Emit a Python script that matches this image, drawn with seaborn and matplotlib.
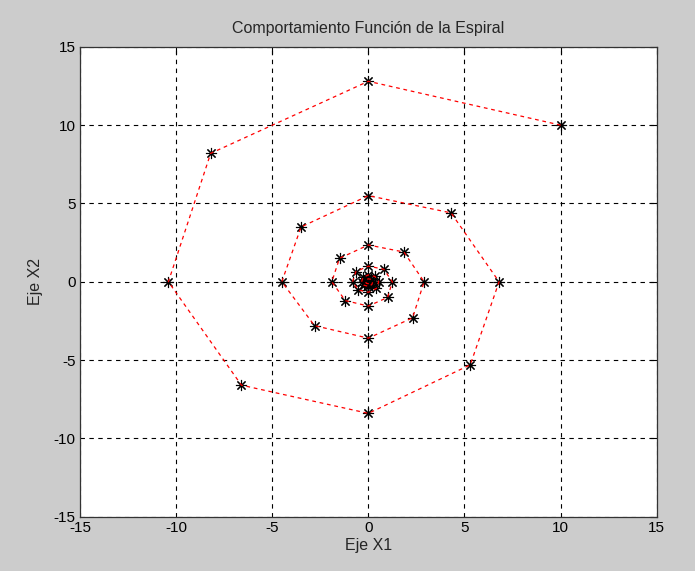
import matplotlib
matplotlib.use("Agg")
import matplotlib.pyplot as plt
import seaborn as sns
import pandas as pd

x1 = [10.0, 0.0, -8.2, -10.4, -6.6, 0.0, 5.3, 6.8, 4.3, 0.0, -3.5, -4.5, -2.8, 0.0,
      2.3, 2.9, 1.85, 0.0, -1.5, -1.9, -1.2, 0.0, 1.0, 1.25, 0.8, 0.0, -0.65, -0.82,
      -0.52, 0.0, 0.42, 0.54, 0.34, 0.0, -0.28, -0.35, -0.22, 0.0, 0.18, 0.23, 0.15,
      0.0, -0.12, -0.15, -0.1, 0.0, 0.08, 0.1]
x2 = [10.0, 12.8, 8.2, 0.0, -6.6, -8.4, -5.3, 0.0, 4.4, 5.5, 3.5, 0.0, -2.8, -3.6,
      -2.3, 0.0, 1.9, 2.35, 1.5, 0.0, -1.2, -1.55, -1.0, 0.0, 0.8, 1.0, 0.65, 0.0,
      -0.52, -0.67, -0.42, 0.0, 0.34, 0.44, 0.28, 0.0, -0.22, -0.29, -0.18, 0.0, 0.15,
      0.19, 0.12, 0.0, -0.1, -0.12, -0.08, 0.0]
ticks = [-15, -10, -5, 0, 5, 10, 15]

df = pd.DataFrame({"x1": x1, "x2": x2})

sns.set_style("white")
plt.rcParams["font.family"] = ["Liberation Sans", "DejaVu Sans"]

fig = plt.figure(figsize=(6.95, 5.71), dpi=100, facecolor="#cccccc")
ax = fig.add_axes([0.115, 0.095, 0.83, 0.823])
ax.set_facecolor("white")

ax.plot(df["x1"], df["x2"], linestyle="none", marker=(8, 2, 0), markersize=8,
        markeredgecolor="black", markeredgewidth=0.8, color="black", zorder=3)
sns.lineplot(data=df, x="x1", y="x2", sort=False, estimator=None, ax=ax,
             color="red", linestyle=(0, (3, 3)), linewidth=0.9, zorder=4)

ax.set_xlim(-15, 15)
ax.set_ylim(-15, 15)
ax.set_xticks(ticks)
ax.set_yticks(ticks)
ax.set_xticklabels([str(t) for t in ticks])
ax.set_yticklabels([str(t) for t in ticks])
ax.grid(True, color="black", linestyle=(0, (4, 4)), linewidth=0.8)
ax.tick_params(direction="in", length=5, width=0.8, top=True, right=True,
               labelsize=11, colors="black", pad=3)
for s in ax.spines.values():
    s.set_visible(True)
    s.set_color("#333333")
    s.set_linewidth(0.9)

ax.set_title("Comportamiento Función de la Espiral", fontsize=11.5, pad=10)
ax.set_xlabel("Eje X1", fontsize=11.5, labelpad=2)
ax.set_ylabel("Eje X2", fontsize=11.5, labelpad=8)

fig.savefig("out.png", dpi=100, facecolor=fig.get_facecolor())
